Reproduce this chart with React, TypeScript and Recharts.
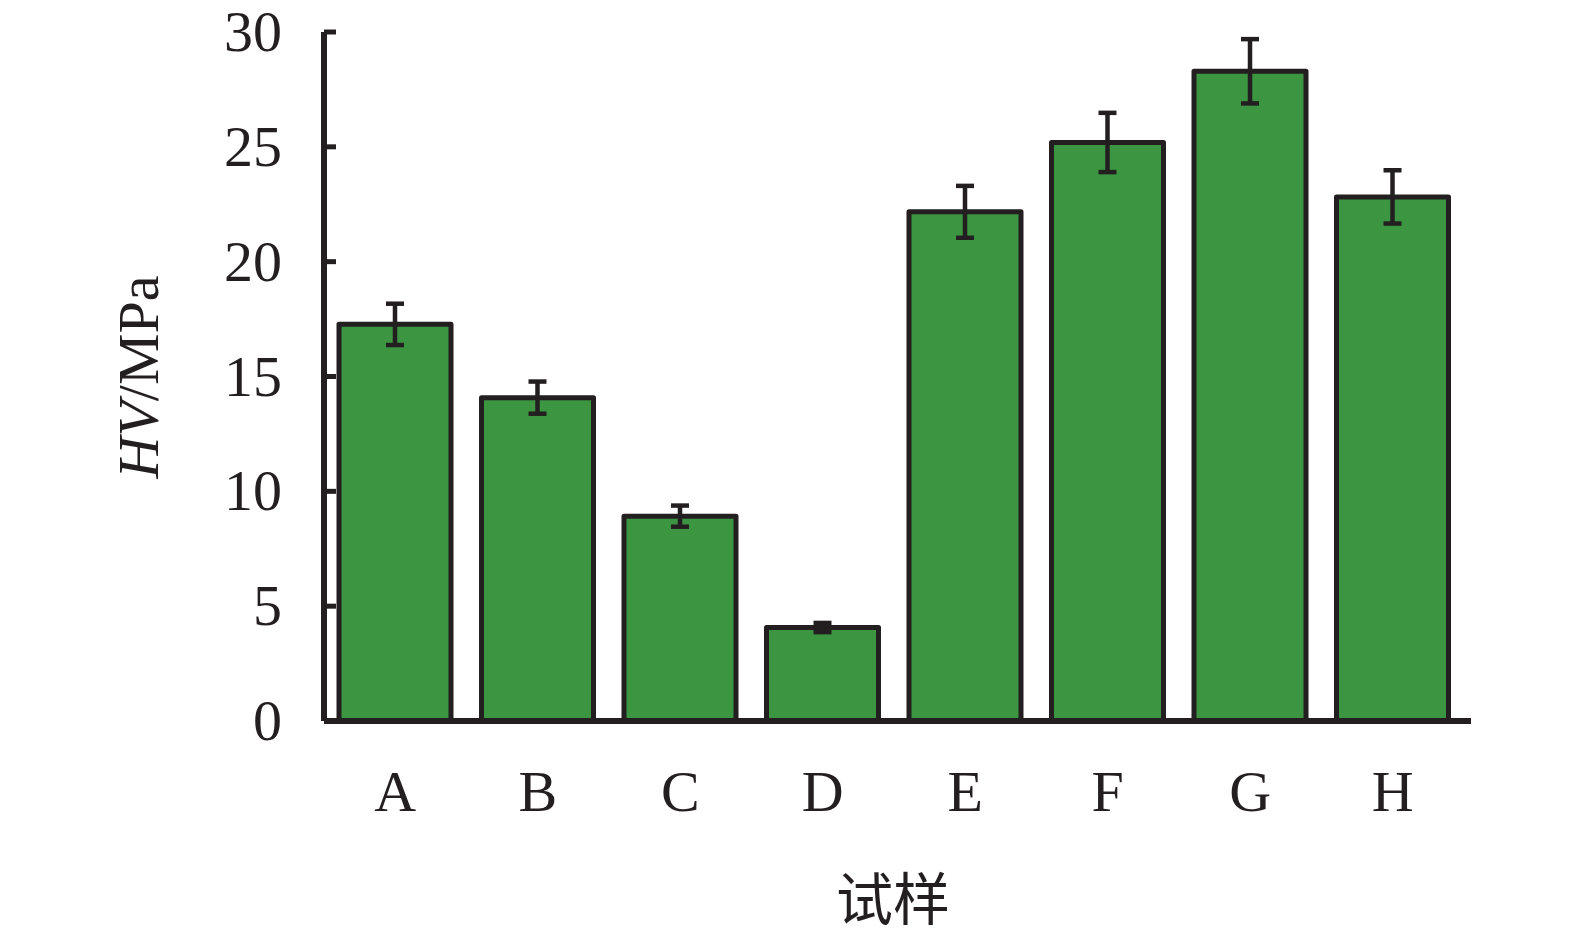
import React from 'react';
import { BarChart, Bar, XAxis, YAxis, ErrorBar, Label } from 'recharts';

const categories = ['A', 'B', 'C', 'D', 'E', 'F', 'G', 'H'];
const hvValues = [17.27, 14.08, 8.92, 4.07, 22.17, 25.19, 28.29, 22.82];
const hvErrors = [0.9, 0.7, 0.46, 0.2, 1.13, 1.29, 1.4, 1.16];
const yTicks = [0, 5, 10, 15, 20, 25, 30];
const xTitle = '试样';

const data = categories.map((c, i) => ({ name: c, hv: hvValues[i], err: hvErrors[i] }));

const INK = '#231f20';
const SERIF = '"Liberation Serif", "Times New Roman", serif';

const YTick = (props: any) => {
  const { x, y, payload } = props;
  return (
    <g>
      <line x1={x} x2={x + 12} y1={y} y2={y} stroke={INK} strokeWidth={5} />
      <text x={x - 42} y={y + 19} textAnchor="end" fontFamily={SERIF} fontSize={58} fill={INK}>
        {payload.value}
      </text>
    </g>
  );
};

const XTick = (props: any) => {
  const { x, y, payload } = props;
  return (
    <text x={x} y={y + 90} textAnchor="middle" fontFamily={SERIF} fontSize={58} fill={INK}>
      {payload.value}
    </text>
  );
};

export default function App() {
  return (
    <div style={{ position: 'absolute', left: 0, top: 0, width: 1575, height: 939, background: '#fff' }}>
      <BarChart
        width={1575}
        height={939}
        data={data}
        margin={{ top: 32, right: 104, bottom: 0, left: 0 }}
      >
        <XAxis
          dataKey="name"
          height={218}
          tickLine={false}
          tickSize={0}
          tickMargin={0}
          padding={{ left: 0, right: 7 }}
          axisLine={{ stroke: INK, strokeWidth: 6 }}
          tick={<XTick />}
          interval={0}
        >
          <Label
            content={() => (
              <text
                x={893}
                y={920}
                textAnchor="middle"
                fontFamily='"Noto Sans CJK SC", sans-serif'
                fontSize={57}
                fill={INK}
              >
                {xTitle}
              </text>
            )}
          />
        </XAxis>
        <YAxis
          width={324}
          domain={[0, 30]}
          ticks={yTicks}
          tickLine={false}
          tickSize={0}
          tickMargin={0}
          axisLine={{ stroke: INK, strokeWidth: 6 }}
          tick={<YTick />}
          interval={0}
        >
          <Label
            content={() => (
              <text
                x={0}
                y={0}
                transform="translate(158, 377) rotate(-90)"
                textAnchor="middle"
                fontFamily={SERIF}
                fontSize={58}
                fill={INK}
              >
                <tspan fontStyle="italic">HV</tspan>
                <tspan>/MPa</tspan>
              </text>
            )}
          />
        </YAxis>
        <Bar
          dataKey="hv"
          fill="#3c9540"
          stroke={INK}
          strokeWidth={5}
          strokeLinejoin="round"
          barSize={112}
          isAnimationActive={false}
        >
          <ErrorBar dataKey="err" width={9} strokeWidth={4.5} stroke={INK} direction="y" />
        </Bar>
      </BarChart>
    </div>
  );
}
